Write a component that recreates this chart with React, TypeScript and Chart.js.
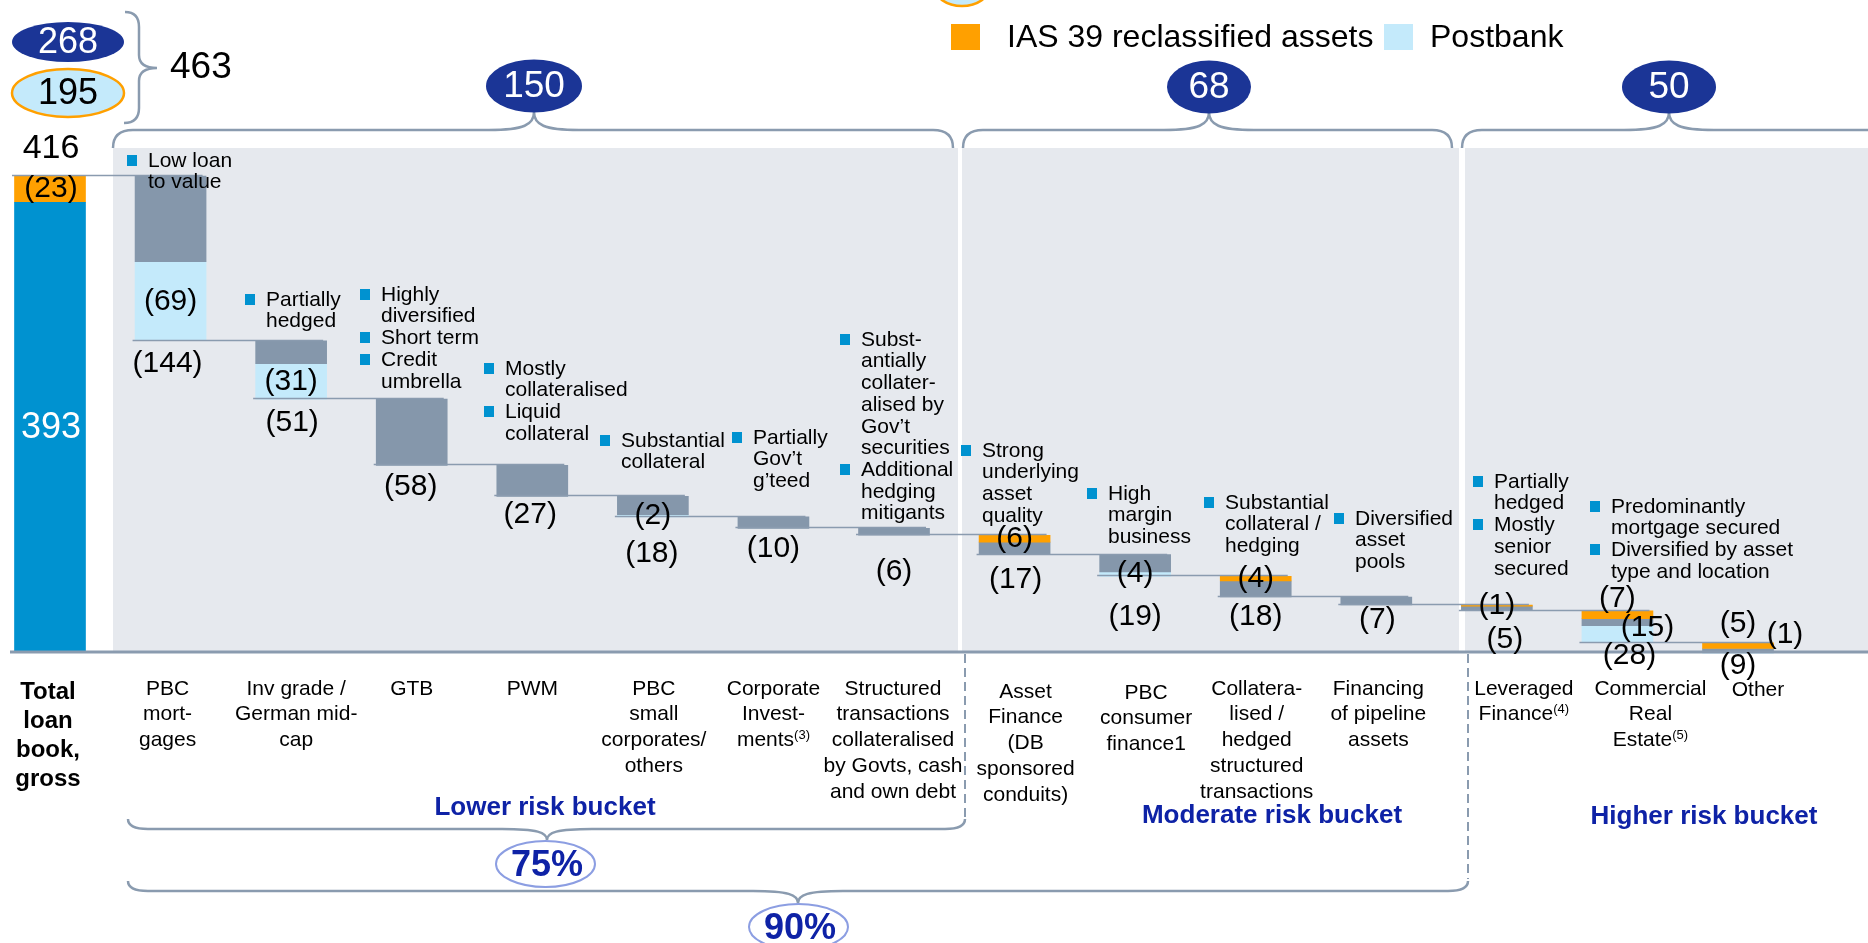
import React, { useEffect, useRef } from "react";
import { Chart, registerables } from "chart.js";
Chart.register(...registerables);

// ---------------- data ----------------
const categories: string[][] = [
  ["Total", "loan", "book,", "gross"],
  ["PBC", "mort-", "gages"],
  ["Inv grade /", "German mid-", "cap"],
  ["GTB"],
  ["PWM"],
  ["PBC", "small", "corporates/", "others"],
  ["Corporate", "Invest-", "ments^(3)"],
  ["Structured", "transactions", "collateralised", "by Govts, cash", "and own debt"],
  ["Asset", "Finance", "(DB", "sponsored", "conduits)"],
  ["PBC", "consumer", "finance1"],
  ["Collatera-", "lised /", "hedged", "structured", "transactions"],
  ["Financing", "of pipeline", "assets"],
  ["Leveraged", "Finance^(4)"],
  ["Commercial", "Real", "Estate^(5)"],
  ["Other"],
];
const totalCore = 393;
const totalIas39 = 23;
const reductions = [144, 51, 58, 27, 18, 10, 6, 17, 19, 18, 7, 5, 28, 9];
const ias39Part = [0, 0, 0, 0, 0, 0, 0, 6, 0, 4, 0, 1, 7, 5];
const postbankPart = [69, 31, 0, 0, 2, 0, 0, 0, 4, 0, 0, 0, 15, 1];
const bucketNames = ["Lower risk bucket", "Moderate risk bucket", "Higher risk bucket"];
const bucketValues = [150, 68, 50];
const bucketShares = ["75%", "90%"];
const headValues = [268, 195, 463];
const legendItems = ["IAS 39 reclassified assets", "Postbank"];
const notes: { lines: string[]; bullets: number[] }[] = [
  { lines: ["Low loan", "to value"], bullets: [0] },
  { lines: ["Partially", "hedged"], bullets: [0] },
  { lines: ["Highly", "diversified", "Short term", "Credit", "umbrella"], bullets: [0, 2, 3] },
  { lines: ["Mostly", "collateralised", "Liquid", "collateral"], bullets: [0, 2] },
  { lines: ["Substantial", "collateral"], bullets: [0] },
  { lines: ["Partially", "Gov\u2019t", "g\u2019teed"], bullets: [0] },
  { lines: ["Subst-", "antially", "collater-", "alised by", "Gov\u2019t", "securities", "Additional", "hedging", "mitigants"], bullets: [0, 6] },
  { lines: ["Strong", "underlying", "asset", "quality"], bullets: [0] },
  { lines: ["High", "margin", "business"], bullets: [0] },
  { lines: ["Substantial", "collateral /", "hedging"], bullets: [0] },
  { lines: ["Diversified", "asset", "pools"], bullets: [0] },
  { lines: ["Partially", "hedged", "Mostly", "senior", "secured"], bullets: [0, 2] },
  { lines: ["Predominantly", "mortgage secured", "Diversified by asset", "type and location"], bullets: [0, 2] },
];

// ---------------- layout / style ----------------
const W = 1868;
const H = 943;
const FONT = "'Liberation Sans', Arial, sans-serif";
const C = {
  navy: "#1B3596",
  blue: "#0092D0",
  orange: "#FFA000",
  grey: "#8597AB",
  light: "#C4EAFB",
  panel: "#E6E9EE",
  line: "#8A9BAF",
  bucket: "#0E22A6",
  pctRing: "#8C9EE2",
};
// note positions: text x, first line centre y
const notePos = [
  [148, 161], [266, 300], [381, 295], [505, 369], [621, 441], [753, 438], [861, 340],
  [982, 451], [1108, 494], [1225, 503], [1355, 519], [1494, 482], [1611, 507],
];
const catDx = [-2, -3, 5, 0, 0, 1, 0, -1, 11, 11, 1, 2, 27, 33, 20];
const catY = [692, 689, 689, 689, 689, 689, 689, 689, 692, 693, 689, 689, 689, 689, 690];
const mainLblDy = [23, 24, 21, 18, 37, 20, 37, 25, 40, 20, 15, 29, 13, 13];
const mainLblDx = [-3, 1, -1, -2, -1, 0, 0, 1, 0, 0, 1, 8, 12, 0];

function ellipse(ctx: CanvasRenderingContext2D, cx: number, cy: number, rx: number, ry: number, fill: string | null, stroke: string | null, lw = 2) {
  ctx.beginPath();
  ctx.ellipse(cx, cy, rx, ry, 0, 0, Math.PI * 2);
  if (fill) { ctx.fillStyle = fill; ctx.fill(); }
  if (stroke) { ctx.strokeStyle = stroke; ctx.lineWidth = lw; ctx.stroke(); }
}

function text(ctx: CanvasRenderingContext2D, s: string, x: number, y: number, size: number, color: string, align: CanvasTextAlign = "center", bold = false) {
  ctx.font = `${bold ? "bold " : ""}${size}px ${FONT}`;
  ctx.fillStyle = color;
  ctx.textAlign = align;
  ctx.textBaseline = "middle";
  ctx.fillText(s, x, y);
}

function rich(ctx: CanvasRenderingContext2D, s: string, cx: number, cy: number, size: number, bold: boolean) {
  const [main, sup] = s.split("^");
  const f1 = `${bold ? "bold " : ""}${size}px ${FONT}`;
  const f2 = `${bold ? "bold " : ""}${Math.round(size * 0.6)}px ${FONT}`;
  ctx.font = f1;
  const w1 = ctx.measureText(main).width;
  let w2 = 0;
  if (sup) { ctx.font = f2; w2 = ctx.measureText(sup).width; }
  const left = cx - (w1 + w2) / 2;
  ctx.fillStyle = "#000";
  ctx.textAlign = "left";
  ctx.textBaseline = "middle";
  ctx.font = f1;
  ctx.fillText(main, left, cy);
  if (sup) { ctx.font = f2; ctx.fillText(sup, left + w1, cy - size * 0.25); }
}

function hBrace(ctx: CanvasRenderingContext2D, x1: number, x2: number, xt: number, y: number, endDy: number, tipDy: number) {
  const r = 20;
  ctx.beginPath();
  ctx.moveTo(x1, y + endDy);
  ctx.quadraticCurveTo(x1, y, x1 + r, y);
  ctx.lineTo(xt - 45, y);
  ctx.bezierCurveTo(xt - 10, y, xt, y + tipDy * 0.3, xt, y + tipDy);
  ctx.bezierCurveTo(xt, y + tipDy * 0.3, xt + 10, y, xt + 45, y);
  if (x2 - r > xt + 45) {
    ctx.lineTo(x2 - r, y);
    ctx.quadraticCurveTo(x2, y, x2, y + endDy);
  } else {
    ctx.lineTo(x2, y);
  }
  ctx.strokeStyle = C.line;
  ctx.lineWidth = 2.5;
  ctx.stroke();
}

const decor = {
  id: "decor",
  beforeDatasetsDraw(chart: any) {
    const ctx: CanvasRenderingContext2D = chart.ctx;
    ctx.save();
    ctx.fillStyle = C.panel;
    ctx.fillRect(113, 148, 958 - 113, 652 - 148);
    ctx.fillRect(962, 148, 1459 - 962, 652 - 148);
    ctx.fillRect(1465, 148, W - 1465, 652 - 148);
    hBrace(ctx, 113, 953, 534, 130, 18, -18);
    hBrace(ctx, 963, 1452, 1209, 130, 18, -18);
    hBrace(ctx, 1462, W + 30, 1669, 130, 18, -18);
    ctx.restore();
  },
  afterDatasetsDraw(chart: any) {
    const ctx: CanvasRenderingContext2D = chart.ctx;
    const xs = chart.scales.x;
    const ys = chart.scales.y;
    const px = (v: number) => xs.getPixelForValue(v);
    const py = (v: number) => ys.getPixelForValue(v);
    ctx.save();

    const levels: number[] = [totalCore + totalIas39];
    reductions.forEach((r, k) => levels.push(levels[k] - r));

    // connectors
    ctx.strokeStyle = C.line;
    ctx.lineWidth = 1.5;
    for (let k = 0; k < reductions.length; k++) {
      const y = Math.round(py(levels[k])) - 0.5;
      ctx.beginPath();
      ctx.moveTo(px(k) - 38, y);
      ctx.lineTo(px(k + 1) + 32, y);
      ctx.stroke();
    }
    // axis
    ctx.lineWidth = 3;
    ctx.beginPath();
    ctx.moveTo(10, py(0));
    ctx.lineTo(W, py(0));
    ctx.stroke();

    // dashed separators + bottom braces
    ctx.setLineDash([9, 5]);
    ctx.lineWidth = 2;
    ctx.beginPath();
    ctx.moveTo(965, py(0) + 2); ctx.lineTo(965, 818);
    ctx.moveTo(1468, py(0) + 2); ctx.lineTo(1468, 879);
    ctx.stroke();
    ctx.setLineDash([]);
    hBrace(ctx, 128, 965, 547, 829, -10, 11);
    hBrace(ctx, 128, 1468, 798, 891, -10, 12);

    // top-left ovals and brace
    ellipse(ctx, 68, 42, 56, 20, C.navy, null);
    text(ctx, String(headValues[0]), 68, 43, 36, "#fff");
    ellipse(ctx, 68, 93, 56, 24, C.light, C.orange, 2.5);
    text(ctx, String(headValues[1]), 68, 94, 36, "#000");
    ctx.beginPath();
    ctx.moveTo(125, 12);
    ctx.quadraticCurveTo(139, 12, 139, 27);
    ctx.lineTo(139, 55);
    ctx.quadraticCurveTo(139, 68, 157, 68);
    ctx.quadraticCurveTo(139, 68, 139, 81);
    ctx.lineTo(139, 108);
    ctx.quadraticCurveTo(139, 123, 124, 123);
    ctx.strokeStyle = C.line;
    ctx.lineWidth = 2.5;
    ctx.stroke();
    text(ctx, String(headValues[2]), 170, 68, 37, "#000", "left");

    // bucket ovals
    const ovals = [[534, 86, 48], [1209, 87, 42], [1669, 87, 47]];
    ovals.forEach(([cx, cy, rx], i) => {
      ellipse(ctx, cx, cy, rx, 26.5, C.navy, null);
      text(ctx, String(bucketValues[i]), cx, cy + 1, 37, "#fff");
    });

    // legend
    ellipse(ctx, 962, -14, 28, 20, C.light, C.orange, 2.5);
    ctx.fillStyle = C.orange;
    ctx.fillRect(951, 24, 29, 26);
    text(ctx, legendItems[0], 1007, 38, 32, "#000", "left");
    ctx.fillStyle = C.light;
    ctx.fillRect(1384, 24, 29, 26);
    text(ctx, legendItems[1], 1430, 38, 32, "#000", "left");

    // total bar labels
    text(ctx, String(totalCore + totalIas39), 51, 149, 34, "#000");
    text(ctx, `(${totalIas39})`, 51, 189, 30, "#000");
    text(ctx, String(totalCore), 51, 428, 36, "#fff");

    // waterfall labels
    for (let k = 0; k < reductions.length; k++) {
      const top = levels[k];
      const bot = levels[k + 1];
      const x = px(k + 1);
      text(ctx, `(${reductions[k]})`, x + mainLblDx[k], py(bot) + mainLblDy[k], 30, "#000");
      if (ias39Part[k] > 0) {
        let dy = 0;
        if (k === 12) dy = -16;
        if (k === 13) dy = -22;
        text(ctx, `(${ias39Part[k]})`, x, py(top - ias39Part[k] / 2) + dy, 30, "#000");
      }
      if (postbankPart[k] > 0) {
        let dx = 0, dy = 0;
        if (k === 12) { dx = 30; dy = -6; }
        if (k === 13) { dx = 47; dy = -18; }
        text(ctx, `(${postbankPart[k]})`, x + dx, py(bot + postbankPart[k] / 2) + dy, 30, "#000");
      }
    }

    // notes
    notes.forEach((n, i) => {
      const [tx, ty] = notePos[i];
      n.lines.forEach((ln, j) => {
        const y = ty + j * 21.7;
        text(ctx, ln, tx, y, 21, "#000", "left");
        if (n.bullets.includes(j)) {
          ctx.fillStyle = C.blue;
          ctx.fillRect(tx - 21, Math.round(y - 6), 10, 11);
        }
      });
    });

    // category labels
    categories.forEach((lines, i) => {
      const bold = i === 0;
      const lh = bold ? 29 : 25.7;
      lines.forEach((ln, j) => rich(ctx, ln, px(i) + catDx[i], catY[i] + j * lh, bold ? 24 : 21, bold));
    });

    // bucket labels
    text(ctx, bucketNames[0], 545, 808, 26, C.bucket, "center", true);
    text(ctx, bucketNames[1], 1272, 816, 26, C.bucket, "center", true);
    text(ctx, bucketNames[2], 1704, 817, 26, C.bucket, "center", true);

    // share ovals
    ellipse(ctx, 545.5, 864, 49.5, 23, "#fff", C.pctRing, 2);
    text(ctx, bucketShares[0], 547, 866, 36, C.bucket, "center", true);
    ellipse(ctx, 798.5, 927, 49.5, 23, "#fff", C.pctRing, 2);
    text(ctx, bucketShares[1], 800, 929, 36, C.bucket, "center", true);

    ctx.restore();
  },
};

export default function App() {
  const ref = useRef<HTMLCanvasElement>(null);
  useEffect(() => {
    if (!ref.current) return;
    const levels: number[] = [totalCore + totalIas39];
    reductions.forEach((r, k) => levels.push(levels[k] - r));
    const core: any[] = [{ x: 0, y: [0, totalCore] }];
    const ias: any[] = [{ x: 0, y: [totalCore, totalCore + totalIas39] }];
    const grey: any[] = [];
    const pb: any[] = [];
    reductions.forEach((r, k) => {
      const top = levels[k];
      const bot = levels[k + 1];
      const a = ias39Part[k];
      const p = postbankPart[k];
      if (a > 0) ias.push({ x: k + 1, y: [top - a, top] });
      if (r - a - p > 0) grey.push({ x: k + 1, y: [bot + p, top - a] });
      if (p > 0) pb.push({ x: k + 1, y: [bot, bot + p] });
    });
    const common = { grouped: false, barThickness: 71, borderWidth: 0, borderSkipped: false };
    const chart = new Chart(ref.current, {
      type: "bar",
      data: {
        datasets: [
          { label: "Loan book", data: core, backgroundColor: C.blue, ...common } as any,
          { label: legendItems[0], data: ias, backgroundColor: C.orange, ...common } as any,
          { label: "Other", data: grey, backgroundColor: C.grey, ...common } as any,
          { label: legendItems[1], data: pb, backgroundColor: C.light, ...common } as any,
        ],
      },
      options: {
        animation: false,
        responsive: true,
        maintainAspectRatio: false,
        layout: { padding: 0 },
        plugins: { legend: { display: false }, tooltip: { enabled: false } },
        scales: {
          x: { type: "linear", min: -0.4147, max: 15.078, offset: false, display: false, grid: { offset: false } },
          y: { type: "linear", min: -254.4, max: 569.8, display: false },
        },
      },
      plugins: [decor],
    });
    return () => chart.destroy();
  }, []);
  return (
    <div style={{ position: "absolute", left: 0, top: 0, width: W, height: H, background: "#fff" }}>
      <canvas ref={ref} />
    </div>
  );
}
